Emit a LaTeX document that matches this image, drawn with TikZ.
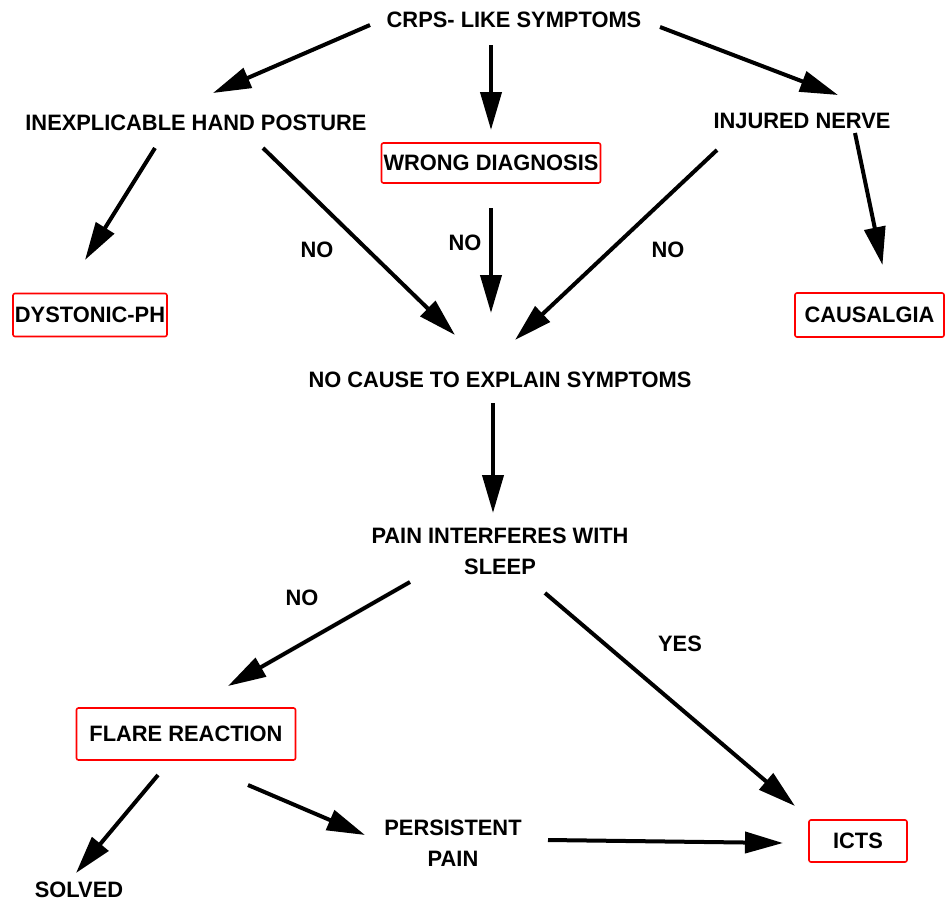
\documentclass[tikz,border=0pt]{standalone}
\usepackage{fontspec}
\setmainfont[FakeStretch=0.98]{Liberation Sans}
\usetikzlibrary{arrows.meta}

\tikzset{
	txt/.style={font=\fontsize{22.3}{31}\selectfont\bfseries, align=center, inner sep=0pt},
	redbox/.style={txt, draw=red, line width=1.6pt, rounded corners=2pt},
	arr/.style={line width=4pt, -{Triangle[length=38pt,width=21pt]}},
}

\begin{document}
\begin{tikzpicture}[x=1pt,y=-1pt]
		%%%%% START %%%%%
		\useasboundingbox (0,0) rectangle (946,905);
		
		\node[txt] (crps) at (514,20) {CRPS- LIKE SYMPTOMS};
		\node[txt] (posture) at (196,123) {INEXPLICABLE HAND POSTURE};
		\node[redbox, minimum width=219pt, minimum height=40pt] (wrong) at (491,163) {WRONG DIAGNOSIS};
		\node[txt] (nerve) at (802,121) {INJURED NERVE};
		
		\node[redbox, minimum width=154pt, minimum height=43pt] (dyst) at (90,315) {DYSTONIC-PH};
		\node[redbox, minimum width=149pt, minimum height=44pt] (causalgia) at (869.5,315) {CAUSALGIA};
		
		\node[txt] (nocause) at (500,380) {NO CAUSE TO EXPLAIN SYMPTOMS};
		\node[txt] (sleep) at (500,551) {PAIN INTERFERES WITH\\SLEEP};
		
		\node[redbox, minimum width=219pt, minimum height=52pt] (flare) at (186,734) {FLARE REACTION};
		\node[txt] (solved) at (79,890) {SOLVED};
		\node[txt] (persist) at (453,843) {PERSISTENT\\PAIN};
		\node[redbox, minimum width=98pt, minimum height=42pt] (icts) at (858,841) {ICTS};
		
		% answers
		\node[txt] (no1) at (317,250) {NO};
		\node[txt] (no2) at (465,243) {NO};
		\node[txt] (no3) at (668,250) {NO};
		\node[txt] (no4) at (302,598) {NO};
		\node[txt] (yes) at (680,644) {YES};
		
		% top row
		\draw[arr] ([shift={(-144,5)}]crps.center) -- ([shift={(17,-30)}]posture.center);
		\draw[arr] ([shift={(-23,25)}]crps.center) -- ([shift={(0,-33)}]wrong.center);
		\draw[arr] ([shift={(146,7)}]crps.center) -- ([shift={(36,-26)}]nerve.center);
		
		\draw[arr] ([shift={(-41,25)}]posture.center) -- ([shift={(-5,-55)}]dyst.center);
		\draw[arr] ([shift={(67,25)}]posture.center) -- ([shift={(-45,-45)}]nocause.center);
		\draw[arr] ([shift={(0,45)}]wrong.center) -- ([shift={(-9,-67)}]nocause.center);
		\draw[arr] ([shift={(-85,29)}]nerve.center) -- ([shift={(15,-40)}]nocause.center);
		\draw[arr] ([shift={(53,12)}]nerve.center) -- ([shift={(13,-50)}]causalgia.center);
		
		% lower part
		\draw[arr] ([shift={(-7,23)}]nocause.center) -- ([shift={(-7,-38)}]sleep.center);
		\draw[arr] ([shift={(-90,31)}]sleep.center) -- ([shift={(42,-48)}]flare.center);
		\draw[arr] ([shift={(45,42)}]sleep.center) -- ([shift={(-63,-35)}]icts.center);
		
		\draw[arr] ([shift={(-28,41)}]flare.center) -- ([shift={(-3,-17)}]solved.center);
		\draw[arr] ([shift={(62,51)}]flare.center) -- ([shift={(-88,-8)}]persist.center);
		\draw[arr] ([shift={(95,-3)}]persist.center) -- ([shift={(-75,2)}]icts.center);
		
		%%%%% END %%%%%
\end{tikzpicture}
\end{document}
